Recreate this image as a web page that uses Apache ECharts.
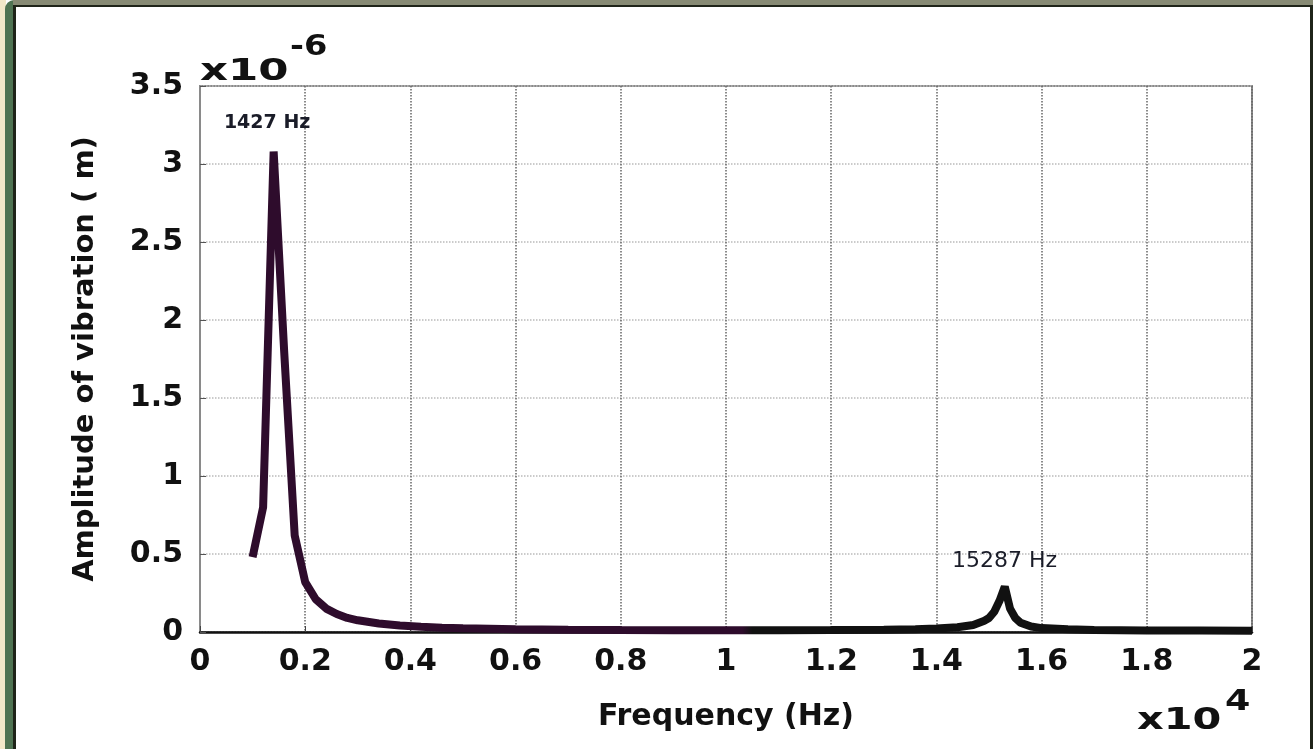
<!DOCTYPE html>
<html>
<head>
<meta charset="utf-8">
<script src="https://cdn.jsdelivr.net/npm/echarts@6/dist/echarts.min.js"></script>
<style>
  body { margin: 0; background: #fff; }
  .blk { position: absolute; }
  #chart { position: absolute; left: 0; top: 0; width: 1313px; height: 749px; }
</style>
</head>
<body>
<div class="blk" style="left:0;top:0;width:1313px;height:749px;background:#fff"></div>
<div class="blk" style="left:0;top:0;width:6px;height:749px;background:#f3e8c9"></div>
<div class="blk" style="left:5px;top:0;width:9px;height:749px;background:#4f7352;border-top-left-radius:12px"></div>
<div class="blk" style="left:13px;top:0;width:1300px;height:5px;background:#878a74"></div>
<div class="blk" style="left:13px;top:5px;width:1300px;height:2px;background:#1f2419"></div>
<div class="blk" style="left:13px;top:5px;width:3px;height:744px;background:#1f2419"></div>
<div class="blk" style="left:1310px;top:5px;width:3px;height:744px;background:#1f2419"></div>
<div id="chart"></div>
<script>
// frequency (Hz) and amplitude (x10^-6 m)
var freqHz = [1000, 1200, 1400, 1600, 1800, 2000, 2200, 2400, 2600, 2800, 3000,
  3400, 3800, 4200, 4600, 5000, 6000, 7000, 8000, 9000, 10000, 11000, 12000,
  13000, 13600, 14000, 14400, 14700, 14900, 15000, 15100, 15200, 15300, 15400,
  15500, 15600, 15800, 16000, 16500, 17000, 18000, 19000, 20000];
var ampMicro = [0.48, 0.80, 3.08, 1.80, 0.62, 0.32, 0.21, 0.15, 0.115, 0.09, 0.075,
  0.055, 0.042, 0.034, 0.028, 0.024, 0.018, 0.015, 0.013, 0.012, 0.012, 0.012, 0.013,
  0.015, 0.018, 0.022, 0.03, 0.045, 0.07, 0.09, 0.13, 0.2, 0.29, 0.15,
  0.09, 0.06, 0.035, 0.025, 0.017, 0.013, 0.01, 0.009, 0.008];
var peakLabels = ['1427 Hz', '15287 Hz'];
var peakLabelPos = [[1276, 3.26], [15295, 0.455]];

var font = 'DejaVu Sans';
var data = freqHz.map(function (f, i) { return [f, ampMicro[i]]; });

var chart = echarts.init(document.getElementById('chart'));
chart.setOption({
  animation: false,
  grid: {
    left: 200, right: 61, top: 86, bottom: 117, outerBoundsMode: 'none',
    show: true, borderColor: '#8a8a8a', borderWidth: 2
  },
  xAxis: {
    type: 'value', min: 0, max: 20000, interval: 2000,
    name: 'Frequency (Hz)', nameLocation: 'middle', nameGap: 70,
    nameTextStyle: { fontFamily: font, fontWeight: 'bold', fontSize: 30, color: '#111' },
    axisLine: { lineStyle: { color: '#111', width: 2.5 } },
    axisTick: { inside: true, length: 6, lineStyle: { color: '#444' } },
    axisLabel: {
      margin: 15, fontFamily: font, fontWeight: 'bold', fontSize: 30, color: '#111',
      formatter: function (v) { return String(parseFloat((v / 1e4).toFixed(1))); }
    },
    splitLine: { show: true, lineStyle: { type: 'dotted', color: '#666', width: 1.5 } }
  },
  yAxis: {
    type: 'value', min: 0, max: 3.5, interval: 0.5,
    name: 'Amplitude of vibration ( m)', nameLocation: 'middle', nameGap: 100,
    nameTextStyle: { fontFamily: font, fontWeight: 'bold', fontSize: 29, color: '#111' },
    axisLine: { show: true, lineStyle: { color: '#8a8a8a', width: 2 } },
    axisTick: { show: true, inside: true, length: 6, lineStyle: { color: '#555' } },
    axisLabel: { margin: 17, fontFamily: font, fontWeight: 'bold', fontSize: 30, color: '#111' },
    splitLine: { show: true, lineStyle: { type: 'dotted', color: '#bbb', width: 1.5 } }
  },
  graphic: [
    { type: 'text', x: 200, y: 57, scaleX: 1.45, style: { text: 'x10', font: 'bold 30px "DejaVu Sans"', fill: '#111' } },
    { type: 'text', x: 290, y: 34, scaleX: 1.2, style: { text: '-6', font: 'bold 28px "DejaVu Sans"', fill: '#111' } },
    { type: 'text', x: 1137, y: 706, scaleX: 1.38, style: { text: 'x10', font: 'bold 30px "DejaVu Sans"', fill: '#111' } },
    { type: 'text', x: 1225, y: 689, scaleX: 1.3, style: { text: '4', font: 'bold 28px "DejaVu Sans"', fill: '#111' } }
  ],
  series: [{
    type: 'line',
    data: data,
    showSymbol: false,
    smooth: false,
    lineStyle: {
      width: 8,
      color: {
        type: 'linear', x: 0, y: 0, x2: 1, y2: 0,
        colorStops: [
          { offset: 0, color: '#2e0c2c' },
          { offset: 0.49, color: '#2e0c2c' },
          { offset: 0.5, color: '#111111' },
          { offset: 1, color: '#111111' }
        ]
      }
    },
    markPoint: {
      symbol: 'circle', symbolSize: 0, silent: true,
      data: peakLabels.map(function (t, i) {
        return {
          coord: peakLabelPos[i], value: t,
          label: {
            show: true, position: 'inside', formatter: t,
            fontFamily: font, fontWeight: i === 0 ? 'bold' : 'normal',
            fontSize: i === 0 ? 19 : 22, color: '#1a1c28'
          }
        };
      })
    }
  }]
});
</script>
</body>
</html>
